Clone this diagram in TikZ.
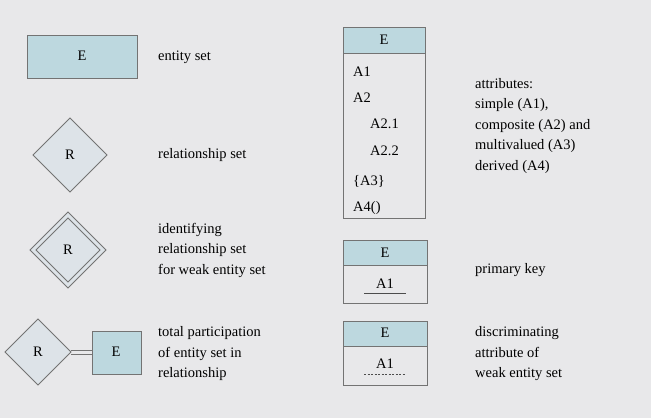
\documentclass[tikz,border=0pt]{standalone}
\usepackage{fontspec}
\setmainfont{Liberation Serif}
\begin{document}
\begin{tikzpicture}[x=1pt,y=-1pt,
  bd/.style={draw=black!55,line width=0.8pt},
  ent/.style={bd,fill=hdr},
  lab/.style={anchor=west,align=left,font=\fontsize{14.5}{20.5}\selectfont,inner sep=0},
  txt/.style={font=\fontsize{14.5}{20.5}\selectfont,inner sep=0}]
\definecolor{bg}{HTML}{E8E8EA}
\definecolor{hdr}{HTML}{BDD8DF}
\definecolor{dfill}{HTML}{DDE3E8}
\fill[bg] (0,0) rectangle (651,418);
\useasboundingbox (0,0) rectangle (651,418);
% entity
\draw[ent] (27,35) rectangle (137,78);
\node[txt] (e1) at (82,56) {E};
\node[lab] (t1) at (158,57) {entity set};
% relationship
\draw[bd,fill=dfill] (70,118)--(107,155)--(70,192)--(33,155)--cycle;
\node[txt] (r1) at (70,155) {R};
\node[lab] (t2) at (158,155) {relationship set};
% identifying
\draw[bd,fill=dfill] (68,212)--(106,250)--(68,288)--(30,250)--cycle;
\draw[bd] (68,218)--(100,250)--(68,282)--(36,250)--cycle;
\node[txt] (r2) at (68,250) {R};
\node[lab] (t3) at (158,250) {identifying\\relationship set\\for weak entity set};
% total participation
\draw[bd,fill=dfill] (38,319)--(71,352)--(38,385)--(5,352)--cycle;
\node[txt] (r3) at (38,352) {R};
\draw[ent] (92,331) rectangle (141,374);
\node[txt] (e3) at (116,352) {E};
\draw[bd] (71,350.5)--(92,350.5);
\draw[bd] (71,354)--(92,354);
\node[lab] (t4) at (158,354) {total participation\\of entity set in\\relationship};
% attributes
\draw[ent] (343,27) rectangle (425,53);
\draw[bd,fill=bg] (343,53) rectangle (425,218);
\node[txt] (eh) at (384,40) {E};
\node[lab] (a1) at (353,72) {A1};
\node[lab] (a2) at (353,98) {A2};
\node[lab] (a21) at (370,124) {A2.1};
\node[lab] (a22) at (370,151) {A2.2};
\node[lab] (a3) at (353,181) {\{A3\}};
\node[lab] (a4) at (353,208) {A4()};
\node[lab] (t5) at (475,126) {attributes:\\simple (A1),\\composite (A2) and\\multivalued (A3)\\derived (A4)};
% primary key
\draw[ent] (343,240) rectangle (427,265);
\draw[bd,fill=bg] (343,265) rectangle (427,303);
\node[txt] (pk) at (385,253) {E};
\node[txt] (pka) at (385,284) {A1};
\draw[black!70] (364,293)--(406,293);
\node[lab] (t6) at (475,270) {primary key};
% discriminator
\draw[ent] (343,321) rectangle (427,346);
\draw[bd,fill=bg] (343,346) rectangle (427,385);
\node[txt] (dk) at (385,333) {E};
\node[txt] (dka) at (385,364) {A1};
\draw[black!70,dashed,dash pattern=on 2pt off 1.5pt] (364,374)--(406,374);
\node[lab] (t7) at (475,354) {discriminating\\attribute of\\weak entity set};
\end{tikzpicture}
\end{document}
